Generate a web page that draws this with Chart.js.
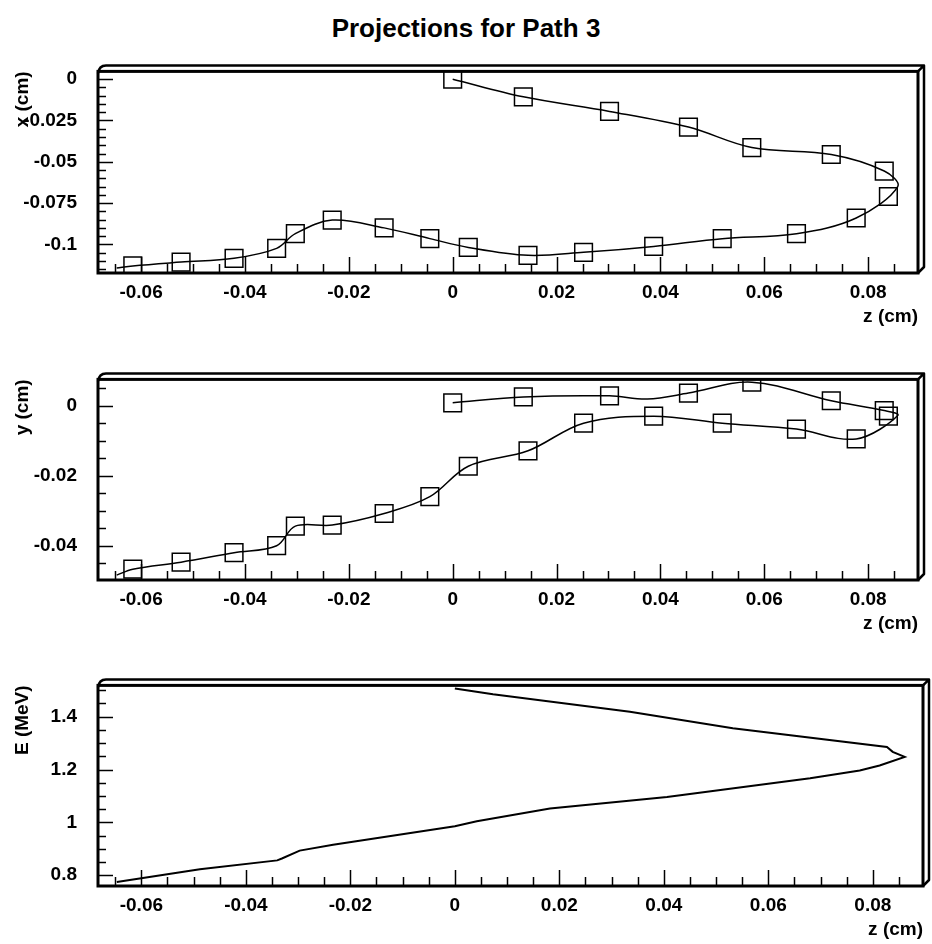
<!DOCTYPE html>
<html>
<head>
<meta charset="utf-8">
<script src="https://cdn.jsdelivr.net/npm/chart.js@4/dist/chart.umd.min.js"></script>
<style>
  html, body { margin: 0; padding: 0; background: #fff; overflow: hidden; }
  #page { position: relative; width: 932px; height: 944px; }
  #title { position: absolute; left: 0; top: 15px; width: 932px; text-align: center;
    font: bold 26px "Liberation Sans", Arial, sans-serif; line-height: 26px; color: #000; }
  .panel { position: absolute; left: 0; width: 932px; }
</style>
</head>
<body>
<div id="page">
  <div id="title">Projections for Path 3</div>
  <div class="panel" style="top:39px;height:301px"><canvas id="c1"></canvas></div>
  <div class="panel" style="top:347px;height:300px"><canvas id="c2"></canvas></div>
  <div class="panel" style="top:653px;height:300px"><canvas id="c3"></canvas></div>
</div>
<script>
// sampled points along the path (markers)
const zPts = [0, 0.0136, 0.0302, 0.0454, 0.0576, 0.0729, 0.0831, 0.0839, 0.0777, 0.0662, 0.0519, 0.0387,
  0.0252, 0.0145, 0.0030, -0.0044, -0.0132, -0.0232, -0.0303, -0.0339, -0.0421, -0.0523, -0.0616];
const xPts = [0, -0.0107, -0.0195, -0.029, -0.0414, -0.0456, -0.0556, -0.071, -0.084, -0.0935, -0.0965, -0.1012,
  -0.1048, -0.1066, -0.1018, -0.0965, -0.090, -0.0853, -0.0935, -0.1024, -0.1084, -0.1107, -0.113];
const yPts = [0.0008, 0.0025, 0.0028, 0.0036, 0.0067, 0.0014, -0.0014, -0.003, -0.0095, -0.0067, -0.005, -0.003,
  -0.005, -0.0129, -0.0173, -0.026, -0.0308, -0.0341, -0.0344, -0.040, -0.042, -0.0447, -0.0467];

// the fitted path curve, x projection
const curveXZ = [0, 0.0136, 0.0302, 0.0454, 0.0576, 0.0729, 0.0831, 0.0857, 0.0777, 0.0662, 0.0519, 0.0387,
  0.0252, 0.0145, 0.0030, -0.0044, -0.0132, -0.0232, -0.0303, -0.0339, -0.0421, -0.0523, -0.0616, -0.0647];
const curveX = [0, -0.0107, -0.0195, -0.029, -0.0414, -0.0456, -0.0556, -0.065, -0.084, -0.0935, -0.0965, -0.1012,
  -0.1048, -0.1066, -0.1018, -0.0965, -0.090, -0.0853, -0.0935, -0.1024, -0.1084, -0.1107, -0.113, -0.1143];
// the fitted path curve, y projection
const curveYZ = [0, 0.0136, 0.0302, 0.0375, 0.0454, 0.0576, 0.0729, 0.0831, 0.0857, 0.0777, 0.0662, 0.0519, 0.0387,
  0.0252, 0.0145, 0.0030, -0.0044, -0.0132, -0.0232, -0.0303, -0.0339, -0.0421, -0.0523, -0.0616, -0.0647];
const curveY = [0.0008, 0.0025, 0.0028, 0.0019, 0.0036, 0.0067, 0.0014, -0.0014, -0.0028, -0.0095, -0.0067, -0.005, -0.003,
  -0.005, -0.0129, -0.0173, -0.026, -0.0308, -0.0341, -0.0344, -0.040, -0.042, -0.0447, -0.0467, -0.0484];

// energy along the path
const eZ = [0, 0.0073, 0.0335, 0.0532, 0.0827, 0.0838, 0.0861, 0.0813, 0.0775, 0.068, 0.0406, 0.0182,
  0.0042, 0, -0.0233, -0.0297, -0.0331, -0.034, -0.0488, -0.0647];
const eE = [1.507, 1.485, 1.419, 1.356, 1.285, 1.267, 1.248, 1.215, 1.196, 1.167, 1.096, 1.052,
  1.004, 0.985, 0.915, 0.893, 0.863, 0.856, 0.822, 0.774];

// tick labels
const zTicks = [-0.06, -0.04, -0.02, 0, 0.02, 0.04, 0.06, 0.08];
const xTicks = [0, -0.025, -0.05, -0.075, -0.1];
const yTicks = [0, -0.02, -0.04];
const eTicks = [0.8, 1, 1.2, 1.4];

const FONT = { family: '"Liberation Sans", Arial, sans-serif', size: 19, weight: 'bold' };

function pairs(a, b) { return a.map((v, i) => ({ x: v, y: b[i] })); }

// ROOT-style frame: inward ticks + 3D border
const frame3d = {
  id: 'frame3d',
  afterDraw(chart, args, opts) {
    const { ctx, chartArea: a } = chart;
    const xs = chart.scales.x, ys = chart.scales.y;
    ctx.save();
    ctx.strokeStyle = '#000';
    ctx.lineWidth = 1.5;
    const isMajor = (v, list) => list.some(t => Math.abs(t - v) < 1e-9);
    // x ticks
    for (let k = Math.ceil(xs.min / opts.xStep - 1e-9); k * opts.xStep <= xs.max + 1e-12; k++) {
      const v = +(k * opts.xStep).toFixed(6);
      const px = Math.round(xs.getPixelForValue(v)) + 0.5;
      const len = isMajor(v, opts.xMajor) ? 16 : 9;
      ctx.beginPath(); ctx.moveTo(px, a.bottom); ctx.lineTo(px, a.bottom - len); ctx.stroke();
    }
    // y ticks
    for (let k = Math.ceil(ys.min / opts.yStep - 1e-9); k * opts.yStep <= ys.max + 1e-12; k++) {
      const v = +(k * opts.yStep).toFixed(6);
      const py = Math.round(ys.getPixelForValue(v)) + 0.5;
      const len = isMajor(v, opts.yMajor) ? 15 : 8;
      ctx.beginPath(); ctx.moveTo(a.left, py); ctx.lineTo(a.left + len, py); ctx.stroke();
    }
    // frame
    const d = 6;
    ctx.lineWidth = 3;
    ctx.strokeRect(a.left, a.top, a.right - a.left, a.bottom - a.top);
    ctx.lineWidth = 2.5;
    ctx.lineJoin = 'round';
    ctx.beginPath();
    ctx.moveTo(a.left, a.top + 2);
    ctx.quadraticCurveTo(a.left + 1, a.top - d, a.left + d + 2, a.top - d);
    ctx.lineTo(a.right + d, a.top - d);
    ctx.lineTo(a.right + d, a.bottom - d);
    ctx.lineTo(a.right, a.bottom);
    ctx.moveTo(a.right, a.top);
    ctx.lineTo(a.right + d, a.top - d);
    ctx.stroke();
    ctx.restore();
  }
};

function makePanel(id, padTop, datasets, yMin, yMax, yTickVals, yTitle, yStep) {
  return new Chart(document.getElementById(id), {
    type: 'scatter',
    data: { datasets },
    plugins: [frame3d],
    options: {
      responsive: true,
      maintainAspectRatio: false,
      animation: false,
      events: [],
      layout: { padding: { left: 0, right: 9, top: padTop, bottom: 0 } },
      plugins: {
        legend: { display: false },
        tooltip: { enabled: false },
        frame3d: { xStep: 0.005, xMajor: zTicks, yStep: yStep, yMajor: yTickVals }
      },
      scales: {
        x: {
          type: 'linear', min: -0.0683, max: 0.0896,
          afterBuildTicks: s => { s.ticks = zTicks.map(v => ({ value: v })); },
          afterFit: s => { s.height = 67; },
          ticks: { callback: v => String(v), font: FONT, color: '#000', padding: 8, maxRotation: 0, autoSkip: false },
          grid: { display: false, drawTicks: false },
          border: { display: false },
          title: { display: true, text: 'z (cm)', align: 'end', font: FONT, color: '#000', padding: { top: 0, bottom: 12 } }
        },
        y: {
          type: 'linear', min: yMin, max: yMax,
          afterBuildTicks: s => { s.ticks = yTickVals.map(v => ({ value: v })); },
          afterFit: s => { s.width = 98; },
          ticks: { callback: v => String(v), font: FONT, color: '#000', padding: 21, autoSkip: false },
          grid: { display: false, drawTicks: false },
          border: { display: false },
          title: { display: true, text: yTitle, align: 'end', font: FONT, color: '#000', padding: { top: 11, bottom: 0 } }
        }
      }
    }
  });
}

function pathSets(cz, cv, markVals) {
  return [
    { data: pairs(cz, cv), showLine: true, tension: 0.35, borderColor: '#000', borderWidth: 1.5,
      pointRadius: 0, fill: false },
    { data: pairs(zPts, markVals), showLine: false, pointStyle: 'rect', pointRadius: 12.5,
      borderColor: '#000', borderWidth: 1.5, backgroundColor: 'rgba(0,0,0,0)' }
  ];
}

makePanel('c1', 28, pathSets(curveXZ, curveX, xPts), -0.1173, 0.0047, xTicks, 'x (cm)', 0.005);
makePanel('c2', 28, pathSets(curveYZ, curveY, yPts), -0.0498, 0.0075, yTicks, 'y (cm)', 0.005);
makePanel('c3', 28, [
  { data: pairs(eZ, eE), showLine: true, tension: 0, borderColor: '#000', borderWidth: 2, pointRadius: 0, fill: false }
], 0.759, 1.5185, eTicks, 'E (MeV)', 0.05);
</script>
</body>
</html>
